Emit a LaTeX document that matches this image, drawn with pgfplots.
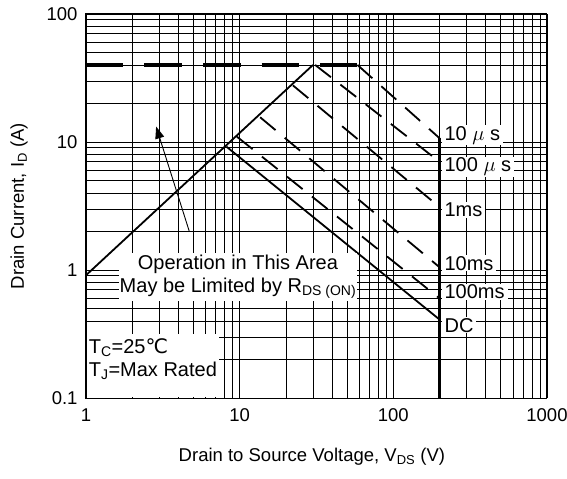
\documentclass[border=0pt]{standalone}
\usepackage{fontspec}
\setmainfont{Liberation Sans}
\newfontfamily\dejavu{DejaVu Sans}
\usepackage{pgfplots}
\pgfplotsset{compat=1.18}
\usetikzlibrary{arrows.meta}

\newcommand{\bigtxt}{\fontsize{20bp}{23bp}\selectfont}
\newcommand{\axtxt}{\fontsize{18.5bp}{21bp}\selectfont}

\begin{document}
\begin{tikzpicture}
\useasboundingbox (-86bp,-81bp) rectangle (481bp,398bp);
\begin{axis}[
  at={(0,0)}, anchor=south west,
  scale only axis, width=461bp, height=384bp,
  xmode=log, ymode=log,
  xmin=1, xmax=1000, ymin=0.1, ymax=100,
  xtick={1,10,100,1000}, xticklabels={1,10,100,1000},
  ytick={0.1,1,10,100}, yticklabels={0.1,1,10,100},
  grid=both,
  major grid style={black, line width=0.8bp},
  minor grid style={black, line width=0.8bp},
  tick style={draw=none},
  axis line style={line width=1bp},
  ticklabel style={font=\axtxt},
  xticklabel style={yshift=-7bp},
  yticklabel style={xshift=-5bp},
  label style={font=\axtxt},
  xlabel={Drain to Source Voltage, V\textsubscript{DS} (V)},
  ylabel={Drain Current, I\textsubscript{D} (A)},
  xlabel style={at={(axis description cs:0.49,-0.153)}, anchor=center},
  ylabel style={at={(axis description cs:-0.1453,0.5)}, anchor=center},
  clip=false,
]
% R_DS(on) limit
\addplot[black, line width=1.8bp] coordinates {(1,0.91) (30,40)};
% package current limit
\addplot[black, line width=4bp, dash pattern=on 37.5bp off 21bp] coordinates {(1,40) (58.4,40)};
% pulse lines
\addplot[black, line width=1.8bp, dash pattern=on 20bp off 12bp] coordinates {(58.4,40) (200,10.7)};
\addplot[black, line width=1.8bp, dash pattern=on 20bp off 12bp] coordinates {(31,40) (200,7.0)};
\addplot[black, line width=1.8bp, dash pattern=on 20bp off 12bp] coordinates {(22.2,27.7) (200,3.1)};
\addplot[black, line width=1.8bp, dash pattern=on 20bp off 12bp] coordinates {(13.6,15.6) (200,1.05)};
\addplot[black, line width=1.8bp, dash pattern=on 20bp off 12bp] coordinates {(9.6,11) (200,0.6)};
% DC
\addplot[black, line width=1.8bp] coordinates {(8.2,9.2) (200,0.41)};
% voltage limit
\addplot[black, line width=2.2bp] coordinates {(200,10.7) (200,0.1)};
% arrow
\addplot[black, line width=0.9bp, -{Triangle[length=12bp,width=9bp]}] coordinates {(4.71,1.99) (2.86,13.2)};

\node[fill=white, align=center, inner xsep=1bp, inner ysep=2bp, font=\bigtxt, yshift=-3bp] at (9.75,0.93)
  {Operation in This Area\\May be Limited by R\textsubscript{DS (ON)}};
\node[fill=white, align=left, anchor=south west, inner xsep=2bp, inner ysep=4bp, text depth=17bp,
  font=\bigtxt, xshift=0.6bp, yshift=0.6bp] at (rel axis cs:0,0)
  {T\textsubscript{C}=25{\dejavu ℃}\\T\textsubscript{J}=Max Rated};

\begin{scope}[every node/.style={fill=white, anchor=west, inner xsep=3bp, inner ysep=1bp, xshift=1.8bp, font=\bigtxt}]
\node at (200,11.3) {10 $\mu$ s};
\node at (200,6.41) {100 $\mu$ s};
\node at (200,2.94) {1ms};
\node at (200,1.13) {10ms};
\node at (200,0.676) {100ms};
\node at (200,0.371) {DC};
\end{scope}
\end{axis}
\end{tikzpicture}
\end{document}
